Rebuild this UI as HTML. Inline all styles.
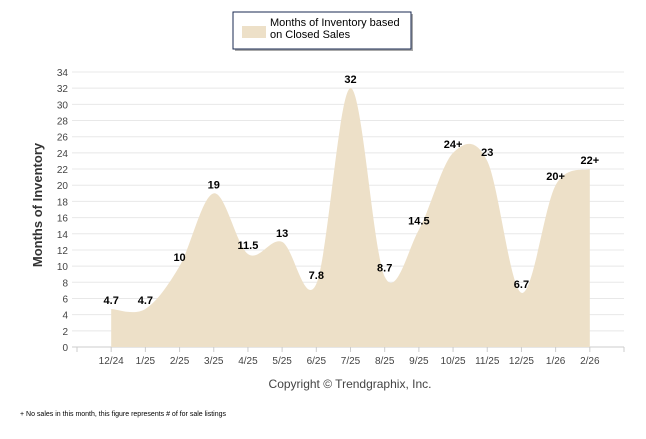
<!DOCTYPE html>
<html><head><meta charset="utf-8"><style>
body{margin:0;background:#fff;width:646px;height:434px;overflow:hidden;font-family:"Liberation Sans",sans-serif}
svg text{font-family:"Liberation Sans",sans-serif}
</style></head><body>
<svg id="c" width="646" height="434">
<g>
<rect x="235" y="14" width="178" height="37" fill="#555" opacity="0.5"/>
<rect x="233" y="12" width="178" height="37" fill="#fff" stroke="#1a2a50" stroke-width="1"/>
<rect x="242" y="26" width="24" height="12" fill="#ede0c8"/>
<text x="270" y="26" font-size="11" fill="#000">Months of Inventory based</text>
<text x="270" y="38" font-size="11" fill="#000">on Closed Sales</text>
</g>
<text transform="translate(42,205) rotate(-90)" text-anchor="middle" font-size="13" font-weight="bold" fill="#333">Months of Inventory</text>
<g id="grid"></g><g id="area"></g><g id="labels"></g>
<text x="350" y="388" text-anchor="middle" font-size="12" fill="#444">Copyright © Trendgraphix, Inc.</text>
<text x="20" y="416" font-size="7" fill="#000">+  No sales in this month, this figure represents # of for sale listings</text>
</svg>
<script>
const categories=["12/24","1/25","2/25","3/25","4/25","5/25","6/25","7/25","8/25","9/25","10/25","11/25","12/25","1/26","2/26"];
const values=[4.7,4.7,10,19,11.5,13,7.8,32,8.7,14.5,24,23,6.7,20,22];
const valueLabels=["4.7","4.7","10","19","11.5","13","7.8","32","8.7","14.5","24+","23","6.7","20+","22+"];
const yTicks=[0,2,4,6,8,10,12,14,16,18,20,22,24,26,28,30,32,34];
const NS="http://www.w3.org/2000/svg";
const L=77,R=624,T=72,B=347,yMax=34;
const step=(R-L)/(categories.length+1);
const x=i=>L+step*(i+1);
const y=v=>B-(v/yMax)*(B-T);
function mk(t,a,p){const e=document.createElementNS(NS,t);for(const k in a)e.setAttribute(k,a[k]);p.appendChild(e);return e;}
const grid=document.getElementById('grid');
yTicks.forEach(v=>{
 const l=mk('line',{x1:72,x2:R,y1:y(v),y2:y(v),stroke:v===0?'#ccc':'#e8e8e8','stroke-width':1},grid);
 
 
 const t=mk('text',{x:68,y:y(v)+4,'text-anchor':'end','font-size':10,fill:'#444'},grid);t.textContent=v;
 
 
});
for(let i=0;i<=categories.length+1;i++){mk('line',{x1:L+step*i,x2:L+step*i,y1:B,y2:B+5,stroke:'#ccc'},grid);}
categories.forEach((c,i)=>{
 const t=mk('text',{x:x(i),y:B+17,'text-anchor':'middle','font-size':10,fill:'#444'},grid);t.textContent=c;
 
 
});
const pts=values.map((v,i)=>[x(i),y(v)]);
let d=`M${pts[0][0]},${B} L${pts[0][0]},${pts[0][1]}`;
for(let i=0;i<pts.length-1;i++){
 const p0=pts[Math.max(0,i-1)],p1=pts[i],p2=pts[i+1],p3=pts[Math.min(pts.length-1,i+2)];
 const k=0.35/2*2/1.0;
 const c1=[p1[0]+(p2[0]-p0[0])/6,p1[1]+(p2[1]-p0[1])/6*1.0];
 const c2=[p2[0]-(p3[0]-p1[0])/6,p2[1]-(p3[1]-p1[1])/6];
 d+=` C${c1[0]},${c1[1]} ${c2[0]},${c2[1]} ${p2[0]},${p2[1]}`;
}
d+=` L${pts[pts.length-1][0]},${B} Z`;
const a=mk('path',{d:d,fill:'#ede0c8'},document.getElementById('area'));


const lg=document.getElementById('labels');
values.forEach((v,i)=>{
 const t=mk('text',{x:x(i),y:y(v)-5,'text-anchor':'middle','font-size':11,'font-weight':'bold',fill:'#000'},lg);
 t.textContent=valueLabels[i];
 
 
});
</script>
</body></html>
